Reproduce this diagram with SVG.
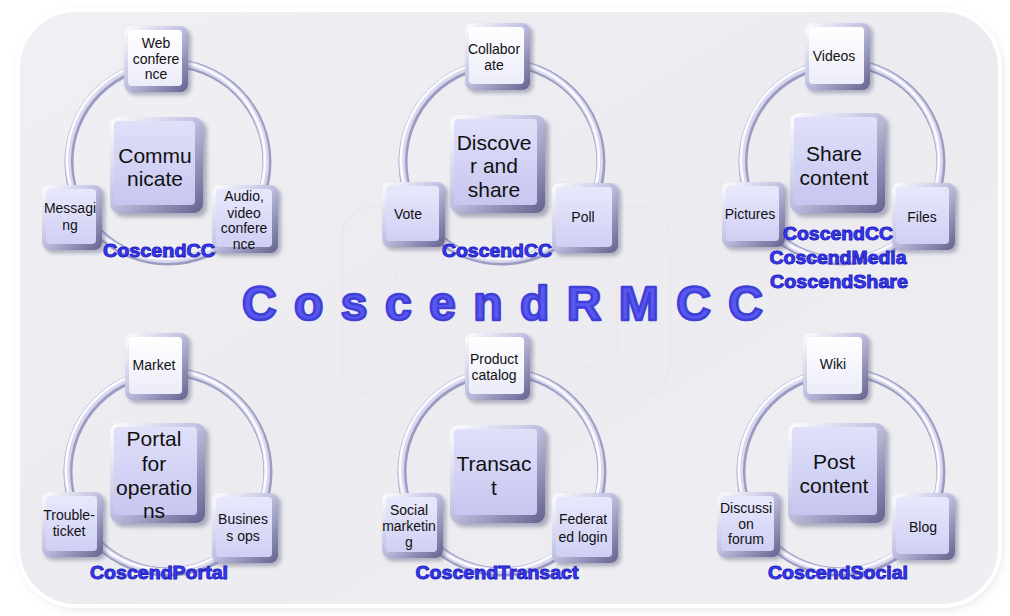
<svg xmlns="http://www.w3.org/2000/svg" width="1010" height="616" viewBox="0 0 1010 616">
<defs>
<linearGradient id="panel" x1="0" y1="0" x2="1" y2="1">
<stop offset="0" stop-color="#f0f0f4"/><stop offset="0.5" stop-color="#ebebf0"/><stop offset="1" stop-color="#efeff3"/>
</linearGradient>
<linearGradient id="bevel" x1="0" y1="0" x2="1" y2="1">
<stop offset="0" stop-color="#ffffff"/><stop offset="0.45" stop-color="#c4c4e4"/><stop offset="1" stop-color="#62628e"/>
</linearGradient>
<linearGradient id="face" x1="0" y1="0" x2="0" y2="1">
<stop offset="0" stop-color="#e8e8fc"/><stop offset="1" stop-color="#cfcff4"/>
</linearGradient>
<linearGradient id="faceTop" x1="0" y1="0" x2="0" y2="1">
<stop offset="0" stop-color="#ffffff"/><stop offset="1" stop-color="#ececfa"/>
</linearGradient>
<linearGradient id="faceCtr" x1="0" y1="0" x2="0" y2="1">
<stop offset="0" stop-color="#e0e0fa"/><stop offset="1" stop-color="#c6c6f0"/>
</linearGradient>
<filter id="sh" x="-20%" y="-20%" width="150%" height="150%">
<feGaussianBlur stdDeviation="2"/>
</filter>
<filter id="psh" x="-5%" y="-5%" width="110%" height="110%">
<feGaussianBlur stdDeviation="6"/>
</filter>
<style>
.t{font-family:"Liberation Sans",Arial,sans-serif;font-size:14px;fill:#111;text-anchor:middle}
.c{font-family:"Liberation Sans",Arial,sans-serif;font-size:21px;fill:#111;text-anchor:middle}
.lb{font-family:"Liberation Sans",Arial,sans-serif;font-size:18px;font-weight:bold;fill:#3a3af6;stroke:#2020c0;stroke-width:0.9;text-anchor:middle}
.big{font-family:"Liberation Sans",Arial,sans-serif;font-size:48px;font-weight:bold;fill:#5858f0;stroke:#4040d8;stroke-width:2.6;stroke-linejoin:round}
.shd{fill:#5a5a7a;opacity:0.45;filter:url(#sh)}
.bv{fill:url(#bevel)}
.f{fill:url(#face)}
.ft{fill:url(#faceTop)}
.fc{fill:url(#faceCtr)}
.r1{fill:none;stroke:#9c9cc2;stroke-width:9}
.r2{fill:none;stroke:#d8d8ee;stroke-width:6}
.r3{fill:none;stroke:#fbfbff;stroke-width:2.5}
</style>
</defs>
<rect width="1010" height="616" fill="#ffffff"/>
<rect x="22" y="15" width="978" height="592" rx="58" fill="#d4d4dc" filter="url(#psh)"/>
<rect x="18" y="10" width="982" height="596" rx="58" fill="url(#panel)" stroke="#ffffff" stroke-width="4"/>
<rect x="342" y="207" width="328" height="188" rx="30" fill="none" stroke="#e8e8ee" stroke-width="2"/>
<rect x="395" y="260" width="222" height="107" rx="20" fill="none" stroke="#e9e9ef" stroke-width="2"/>

<g id="connectors">
<circle cx="168" cy="162" r="99" class="r1"/><circle cx="167" cy="161" r="99" class="r2"/><circle cx="166" cy="160" r="99" class="r3"/>
<circle cx="502" cy="162" r="99" class="r1"/><circle cx="501" cy="161" r="99" class="r2"/><circle cx="500" cy="160" r="99" class="r3"/>
<circle cx="842" cy="162" r="99" class="r1"/><circle cx="841" cy="161" r="99" class="r2"/><circle cx="840" cy="160" r="99" class="r3"/>
<circle cx="168" cy="472" r="100" class="r1"/><circle cx="167" cy="471" r="100" class="r2"/><circle cx="166" cy="470" r="100" class="r3"/>
<circle cx="502" cy="472" r="100" class="r1"/><circle cx="501" cy="471" r="100" class="r2"/><circle cx="500" cy="470" r="100" class="r3"/>
<circle cx="841" cy="472" r="100" class="r1"/><circle cx="840" cy="471" r="100" class="r2"/><circle cx="839" cy="470" r="100" class="r3"/>
</g>

<!-- Cluster 1 -->
<g id="n-webconf">
<rect x="127" y="29" width="64" height="66" rx="8" class="shd"/>
<rect x="124" y="26" width="64" height="66" rx="8" class="bv"/>
<rect x="128" y="30" width="54" height="56" rx="4" class="ft"/>
<text class="t" x="156" y="48">Web</text><text class="t" x="156" y="64">confere</text><text class="t" x="156" y="79">nce</text>
</g>
<g id="n-communicate">
<rect x="114" y="121" width="93" height="96" rx="9" class="shd"/>
<rect x="110" y="117" width="93" height="96" rx="9" class="bv"/>
<rect x="114" y="121" width="81" height="84" rx="4" class="fc"/>
<text class="c" x="155" y="163">Commu</text><text class="c" x="155" y="186">nicate</text>
</g>
<g id="n-messaging">
<rect x="45" y="188" width="60" height="65" rx="8" class="shd"/>
<rect x="42" y="185" width="60" height="65" rx="8" class="bv"/>
<rect x="46" y="189" width="50" height="55" rx="4" class="f"/>
<text class="t" x="70" y="213">Messagi</text><text class="t" x="70" y="230">ng</text>
</g>
<g id="n-audio">
<rect x="215" y="188" width="66" height="68" rx="8" class="shd"/>
<rect x="212" y="185" width="66" height="68" rx="8" class="bv"/>
<rect x="216" y="189" width="56" height="58" rx="4" class="f"/>
<text class="t" x="244" y="201">Audio,</text><text class="t" x="244" y="218">video</text><text class="t" x="244" y="233">confere</text><text class="t" x="244" y="249">nce</text>
</g>
<g id="l-cc1"><text class="lb" x="159" y="257" textLength="112" lengthAdjust="spacingAndGlyphs">CoscendCC</text></g>

<!-- Cluster 2 -->
<g id="n-collab">
<rect x="468" y="26" width="65" height="67" rx="8" class="shd"/>
<rect x="465" y="23" width="65" height="67" rx="8" class="bv"/>
<rect x="469" y="27" width="55" height="57" rx="4" class="ft"/>
<text class="t" x="494" y="54">Collabor</text><text class="t" x="494" y="70">ate</text>
</g>
<g id="n-discover">
<rect x="454" y="119" width="95" height="98" rx="9" class="shd"/>
<rect x="450" y="115" width="95" height="98" rx="9" class="bv"/>
<rect x="454" y="119" width="83" height="86" rx="4" class="fc"/>
<text class="c" x="494" y="150">Discove</text><text class="c" x="494" y="173">r and</text><text class="c" x="494" y="197">share</text>
</g>
<g id="n-vote">
<rect x="385" y="185" width="63" height="65" rx="8" class="shd"/>
<rect x="382" y="182" width="63" height="65" rx="8" class="bv"/>
<rect x="386" y="186" width="53" height="55" rx="4" class="f"/>
<text class="t" x="408" y="219">Vote</text>
</g>
<g id="n-poll">
<rect x="555" y="186" width="66" height="70" rx="8" class="shd"/>
<rect x="552" y="183" width="66" height="70" rx="8" class="bv"/>
<rect x="556" y="187" width="56" height="60" rx="4" class="f"/>
<text class="t" x="583" y="222">Poll</text>
</g>
<g id="l-cc2"><text class="lb" x="497" y="257" textLength="110" lengthAdjust="spacingAndGlyphs">CoscendCC</text></g>

<!-- Cluster 3 -->
<g id="n-videos">
<rect x="808" y="26" width="65" height="67" rx="8" class="shd"/>
<rect x="805" y="23" width="65" height="67" rx="8" class="bv"/>
<rect x="809" y="27" width="55" height="57" rx="4" class="ft"/>
<text class="t" x="834" y="61">Videos</text>
</g>
<g id="n-sharecontent">
<rect x="794" y="117" width="95" height="100" rx="9" class="shd"/>
<rect x="790" y="113" width="95" height="100" rx="9" class="bv"/>
<rect x="794" y="117" width="83" height="88" rx="4" class="fc"/>
<text class="c" x="834" y="161">Share</text><text class="c" x="834" y="185">content</text>
</g>
<g id="n-pictures">
<rect x="725" y="185" width="63" height="65" rx="8" class="shd"/>
<rect x="722" y="182" width="63" height="65" rx="8" class="bv"/>
<rect x="726" y="186" width="53" height="55" rx="4" class="f"/>
<text class="t" x="750" y="219">Pictures</text>
</g>
<g id="n-files">
<rect x="895" y="186" width="63" height="67" rx="8" class="shd"/>
<rect x="892" y="183" width="63" height="67" rx="8" class="bv"/>
<rect x="896" y="187" width="53" height="57" rx="4" class="f"/>
<text class="t" x="922" y="222">Files</text>
</g>
<g id="l-cc3">
<text class="lb" x="838" y="240" textLength="110" lengthAdjust="spacingAndGlyphs">CoscendCC</text>
<text class="lb" x="838" y="264" textLength="137" lengthAdjust="spacingAndGlyphs">CoscendMedia</text>
<text class="lb" x="839" y="288" textLength="138" lengthAdjust="spacingAndGlyphs">CoscendShare</text>
</g>

<!-- Cluster 4 -->
<g id="n-market">
<rect x="128" y="336" width="63" height="67" rx="8" class="shd"/>
<rect x="125" y="333" width="63" height="67" rx="8" class="bv"/>
<rect x="129" y="337" width="53" height="57" rx="4" class="ft"/>
<text class="t" x="154" y="370">Market</text>
</g>
<g id="n-portal">
<rect x="114" y="427" width="95" height="100" rx="9" class="shd"/>
<rect x="110" y="423" width="95" height="100" rx="9" class="bv"/>
<rect x="114" y="427" width="83" height="88" rx="4" class="fc"/>
<text class="c" x="154" y="446">Portal</text><text class="c" x="154" y="471">for</text><text class="c" x="154" y="495">operatio</text><text class="c" x="154" y="518">ns</text>
</g>
<g id="n-trouble">
<rect x="45" y="495" width="61" height="65" rx="8" class="shd"/>
<rect x="42" y="492" width="61" height="65" rx="8" class="bv"/>
<rect x="46" y="496" width="51" height="55" rx="4" class="f"/>
<text class="t" x="69" y="520">Trouble-</text><text class="t" x="69" y="536">ticket</text>
</g>
<g id="n-business">
<rect x="215" y="496" width="66" height="70" rx="8" class="shd"/>
<rect x="212" y="493" width="66" height="70" rx="8" class="bv"/>
<rect x="216" y="497" width="56" height="60" rx="4" class="f"/>
<text class="t" x="243" y="524">Busines</text><text class="t" x="243" y="541">s ops</text>
</g>
<g id="l-portal"><text class="lb" x="159" y="579" textLength="138" lengthAdjust="spacingAndGlyphs">CoscendPortal</text></g>

<!-- Cluster 5 -->
<g id="n-product">
<rect x="468" y="336" width="65" height="67" rx="8" class="shd"/>
<rect x="465" y="333" width="65" height="67" rx="8" class="bv"/>
<rect x="469" y="337" width="55" height="57" rx="4" class="ft"/>
<text class="t" x="494" y="364">Product</text><text class="t" x="494" y="380">catalog</text>
</g>
<g id="n-transact">
<rect x="454" y="429" width="95" height="98" rx="9" class="shd"/>
<rect x="450" y="425" width="95" height="98" rx="9" class="bv"/>
<rect x="454" y="429" width="83" height="86" rx="4" class="fc"/>
<text class="c" x="494" y="471">Transac</text><text class="c" x="494" y="495">t</text>
</g>
<g id="n-social">
<rect x="385" y="496" width="61" height="65" rx="8" class="shd"/>
<rect x="382" y="493" width="61" height="65" rx="8" class="bv"/>
<rect x="386" y="497" width="51" height="55" rx="4" class="f"/>
<text class="t" x="409" y="515">Social</text><text class="t" x="409" y="531">marketin</text><text class="t" x="409" y="547">g</text>
</g>
<g id="n-federated">
<rect x="555" y="496" width="66" height="70" rx="8" class="shd"/>
<rect x="552" y="493" width="66" height="70" rx="8" class="bv"/>
<rect x="556" y="497" width="56" height="60" rx="4" class="f"/>
<text class="t" x="583" y="524">Federat</text><text class="t" x="583" y="542">ed login</text>
</g>
<g id="l-transact"><text class="lb" x="497" y="579" textLength="163" lengthAdjust="spacingAndGlyphs">CoscendTransact</text></g>

<!-- Cluster 6 -->
<g id="n-wiki">
<rect x="806" y="336" width="65" height="67" rx="8" class="shd"/>
<rect x="803" y="333" width="65" height="67" rx="8" class="bv"/>
<rect x="807" y="337" width="55" height="57" rx="4" class="ft"/>
<text class="t" x="833" y="369">Wiki</text>
</g>
<g id="n-postcontent">
<rect x="792" y="427" width="97" height="100" rx="9" class="shd"/>
<rect x="788" y="423" width="97" height="100" rx="9" class="bv"/>
<rect x="792" y="427" width="85" height="88" rx="4" class="fc"/>
<text class="c" x="834" y="469">Post</text><text class="c" x="834" y="493">content</text>
</g>
<g id="n-discussion">
<rect x="720" y="495" width="63" height="65" rx="8" class="shd"/>
<rect x="717" y="492" width="63" height="65" rx="8" class="bv"/>
<rect x="721" y="496" width="53" height="55" rx="4" class="f"/>
<text class="t" x="746" y="513">Discussi</text><text class="t" x="746" y="529">on</text><text class="t" x="746" y="544">forum</text>
</g>
<g id="n-blog">
<rect x="895" y="496" width="63" height="67" rx="8" class="shd"/>
<rect x="892" y="493" width="63" height="67" rx="8" class="bv"/>
<rect x="896" y="497" width="53" height="57" rx="4" class="f"/>
<text class="t" x="923" y="532">Blog</text>
</g>
<g id="l-social"><text class="lb" x="838" y="579" textLength="140" lengthAdjust="spacingAndGlyphs">CoscendSocial</text></g>

<g id="title"><text class="big" x="242" y="320" textLength="521" lengthAdjust="spacing">CoscendRMCC</text></g>
</svg>
